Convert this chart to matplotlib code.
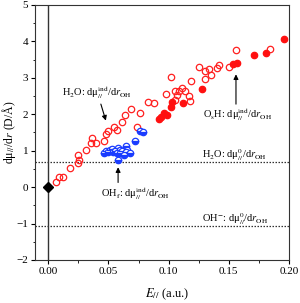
import numpy as np
from matplotlib import pyplot as plt

plt.rcParams['font.family'] = ['Liberation Serif', 'DejaVu Serif']
plt.rcParams['mathtext.fontset'] = 'stix'

# H2O: open red circles
h2o_x = [0.0064, 0.0091, 0.0122, 0.0177, 0.0246, 0.0255, 0.0246, 0.0310, 0.0365, 0.0354,
         0.0398, 0.0459, 0.0476, 0.0498, 0.0542, 0.0570, 0.0614, 0.0637, 0.0686, 0.0736,
         0.0763, 0.0830, 0.0880, 0.0979, 0.1023, 0.1056, 0.1090, 0.1112, 0.1134, 0.1073,
         0.1051, 0.1168, 0.1178, 0.1184, 0.1256, 0.1305, 0.1334, 0.1355, 0.1300, 0.1400,
         0.1417, 0.1500, 0.1560, 0.1842]
h2o_y = [0.15, 0.28, 0.28, 0.51, 0.65, 0.74, 0.88, 1.02, 1.36, 1.22,
         1.22, 1.27, 1.47, 1.55, 1.66, 1.57, 1.78, 1.99, 2.15, 1.66,
         2.02, 2.33, 2.31, 2.55, 3.01, 2.64, 2.64, 2.72, 2.63, 2.52,
         2.39, 2.50, 2.37, 2.90, 3.29, 3.19, 3.25, 3.07, 2.97, 3.27,
         3.36, 3.30, 3.76, 3.80]

# OsH: filled red circles
osh_x = [0.0924, 0.0940, 0.0963, 0.0990, 0.1023, 0.1029, 0.1123, 0.1278, 0.1538, 0.1566,
         0.1710, 0.1809, 0.1959]
osh_y = [1.86, 1.93, 2.02, 1.97, 2.19, 2.33, 2.30, 2.70, 3.38, 3.41,
         3.62, 3.69, 4.05]

# OHf: blue circles
ohf_x = [0.0465, 0.0481, 0.0498, 0.0515, 0.0531, 0.0539, 0.0556, 0.0573, 0.0581, 0.0581,
         0.0598, 0.0598, 0.0614, 0.0631, 0.0647, 0.0656, 0.0647, 0.0680, 0.0720, 0.0763,
         0.0788]
ohf_y = [0.93, 0.99, 0.96, 1.02, 1.04, 0.96, 0.99, 0.93, 1.07, 0.74,
         1.02, 0.93, 0.99, 0.88, 1.13, 1.02, 0.96, 0.93, 1.26, 1.54,
         1.51]

h2o_static = 0.70
oh_static = -1.06

fig = plt.figure(figsize=(3.0, 3.03), dpi=100)
ax = fig.add_axes([0.117, 0.142, 0.846, 0.842])

ax.axvline(0, color='#333333', lw=1.0, zorder=1)
ax.axhline(h2o_static, color='#333333', lw=0.9, ls=(0, (1.2, 1.2)), zorder=1)
ax.axhline(oh_static, color='#333333', lw=0.9, ls=(0, (1.2, 1.2)), zorder=1)

ax.plot(h2o_x, h2o_y, 'o', ms=4.6, mfc='none', mec='#ff2020', mew=0.9, zorder=3)
ax.plot(osh_x, osh_y, 'o', ms=4.6, mfc='#ff1010', mec='#ff1010', mew=0.9, zorder=3)
ax.plot(ohf_x, ohf_y, 'o', ms=4.6, fillstyle='bottom', mfc='#1a3cff', mfcalt='white',
        mec='#1a3cff', mew=0.9, zorder=3)
ax.plot([0], [0], 'D', ms=5, color='black', zorder=4)

fs = 7.5
ax.text(0.011, 2.6, r"H$_2$O: dμ$^{\rm ind}_{//}$/d$\it{r}$$_{\rm OH}$", fontsize=fs,
        va='center')
ax.annotate('', xy=(0.0485, 1.75), xytext=(0.043, 2.35),
            arrowprops=dict(arrowstyle='-|>', color='black', lw=0.8, mutation_scale=7))
ax.text(0.129, 1.98, r"O$_{\rm s}$H: dμ$^{\rm ind}_{//}$/d$\it{r}$$_{\rm OH}$", fontsize=fs,
        va='center')
ax.annotate('', xy=(0.156, 3.17), xytext=(0.156, 2.2),
            arrowprops=dict(arrowstyle='-|>', color='black', lw=0.8, mutation_scale=7))
ax.text(0.044, -0.17, r"OH$_{\rm f}$: dμ$^{\rm ind}_{//}$/d$\it{r}$$_{\rm OH}$", fontsize=fs,
        va='center')
ax.annotate('', xy=(0.058, 0.62), xytext=(0.058, 0.05),
            arrowprops=dict(arrowstyle='-|>', color='black', lw=0.8, mutation_scale=7))
ax.text(0.128, 0.88, r"H$_2$O: dμ$^{0}_{//}$/d$\it{r}$$_{\rm OH}$", fontsize=fs,
        va='center')
ax.text(0.128, -0.88, r"OH$^{-}$: dμ$^{0}_{//}$/d$\it{r}$$_{\rm OH}$", fontsize=fs,
        va='center')

ax.set_xlim(-0.011, 0.2)
ax.set_ylim(-2, 5)
ax.set_xticks([0.0, 0.05, 0.10, 0.15, 0.20])
ax.set_xticklabels(['0.00', '0.05', '0.10', '0.15', '0.20'])
ax.set_xticks([0.025, 0.075, 0.125, 0.175], minor=True)
ax.set_yticks(range(-2, 6))
ax.set_yticks(np.arange(-1.5, 5, 1.0), minor=True)
ax.tick_params(which='major', direction='out', length=3, width=0.8, labelsize=8, pad=2)
ax.tick_params(which='minor', direction='out', length=1.8, width=0.6)
for s in ax.spines.values():
    s.set_linewidth(0.8)
    s.set_color('#333333')

ax.set_xlabel(r"$\it{E}$$_{//}$ (a.u.)", fontsize=9)
ax.xaxis.set_label_coords(0.52, -0.105)
ax.set_ylabel(r"dμ$_{//}$/d$\it{r}$ (D/Å)", fontsize=8.5)
ax.yaxis.set_label_coords(-0.068, 0.5)

fig.savefig('out.png', dpi=100)
